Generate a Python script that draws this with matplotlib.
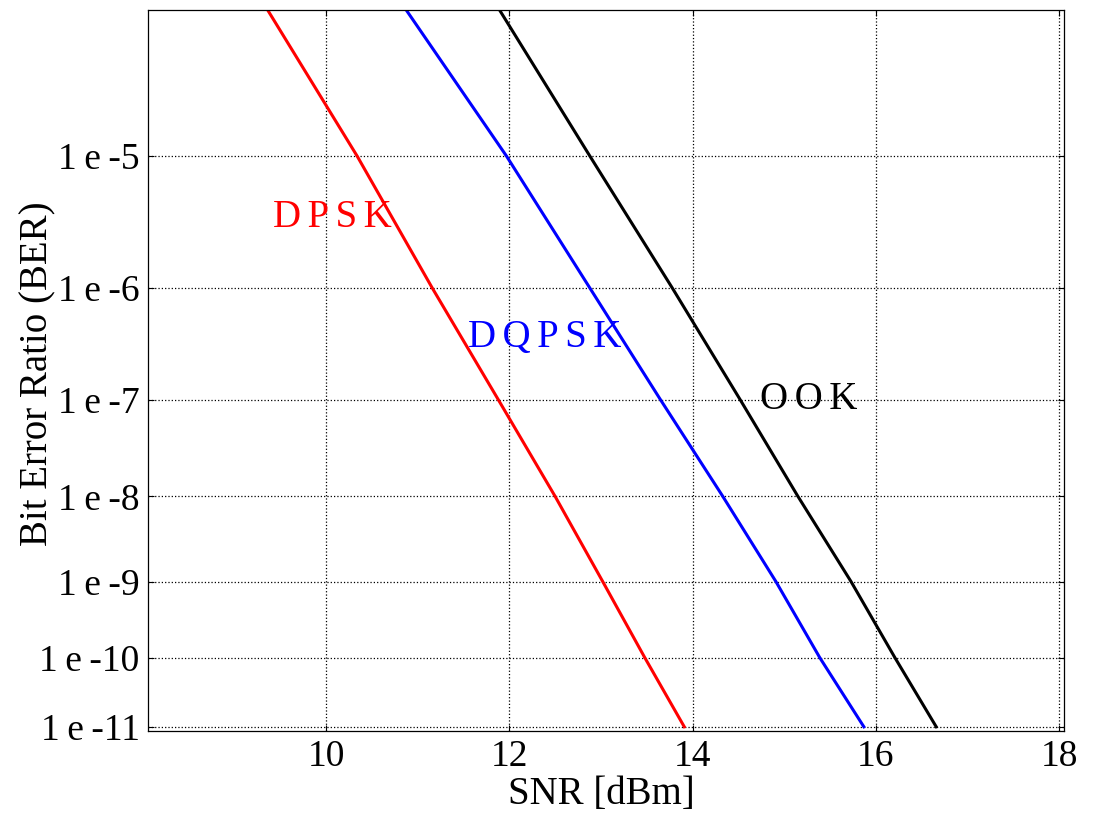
import numpy as np
import matplotlib
matplotlib.use("Agg")
import matplotlib.pyplot as plt

ber_levels = [1e-4, 1e-5, 1e-6, 1e-7, 1e-8, 1e-9, 1e-10, 1e-11]

# SNR [dBm] at each BER level
snr_dpsk = [9.26, 10.34, 11.16, 11.88, 12.50, 13.02, 13.48, 13.91]
snr_dqpsk = [10.76, 11.97, 12.88, 13.65, 14.33, 14.91, 15.39, 15.87]
snr_ook = [11.79, 12.88, 13.78, 14.52, 15.15, 15.73, 16.21, 16.66]

ytick_vals = [1e-5, 1e-6, 1e-7, 1e-8, 1e-9, 1e-10, 1e-11]
ytick_labels = ["1\u2009e\u2009-5", "1\u2009e\u2009-6", "1\u2009e\u2009-7", "1\u2009e\u2009-8",
                "1\u2009e\u2009-9", "1\u2009e\u2009-10", "1\u2009e\u2009-11"]
xtick_vals = [10, 12, 14, 16, 18]


def q_forward(y):
    y = np.asarray(y, dtype=float)
    with np.errstate(divide="ignore", invalid="ignore"):
        return -np.log10(-np.log10(y))


def q_inverse(t):
    t = np.asarray(t, dtype=float)
    return 10.0 ** (-(10.0 ** (-t)))


def spaced(s):
    # the reference renders curve names with a little letter spacing
    return "\u2006".join(s)


plt.rcParams["font.family"] = ["Liberation Serif", "DejaVu Serif"]

fig = plt.figure(figsize=(10.93, 8.16), dpi=100)
ax = fig.add_axes([0.1354, 0.1042, 0.8381, 0.8835])
ax.set_yscale("function", functions=(q_forward, q_inverse))

ax.plot(snr_dpsk, ber_levels, color="#ff0000", lw=2.2)
ax.plot(snr_dqpsk, ber_levels, color="#0000ff", lw=2.2)
ax.plot(snr_ook, ber_levels, color="black", lw=2.2)

ax.set_xlim(8.057, 18.055)
ax.set_ylim(8.63e-12, 8.2e-5)

ax.set_yticks(ytick_vals)
ax.set_yticklabels(ytick_labels)
ax.yaxis.set_minor_locator(matplotlib.ticker.NullLocator())
ax.set_xticks(xtick_vals)
ax.tick_params(direction="in", length=4, width=0.8, labelsize=27,
               top=True, right=True, pad=6)

ax.grid(True, linestyle=":", color="black", linewidth=0.9)
for sp in ax.spines.values():
    sp.set_linewidth(0.9)

ax.text(9.42, 3.6e-6, spaced("DPSK"), color="#ff0000", fontsize=28, va="center", ha="left")
ax.text(11.55, 3.8e-7, spaced("DQPSK"), color="#0000ff", fontsize=28, va="center", ha="left")
ax.text(14.74, 1e-7, spaced("OOK"), color="black", fontsize=28, va="center", ha="left")

ax.set_xlabel("SNR [dBm]", fontsize=28)
ax.xaxis.set_label_coords(0.4945, -0.062)
ax.set_ylabel("Bit Error Ratio (BER)", fontsize=28)
ax.yaxis.set_label_coords(-0.1, 0.495)

fig.savefig("out.png", dpi=100)
